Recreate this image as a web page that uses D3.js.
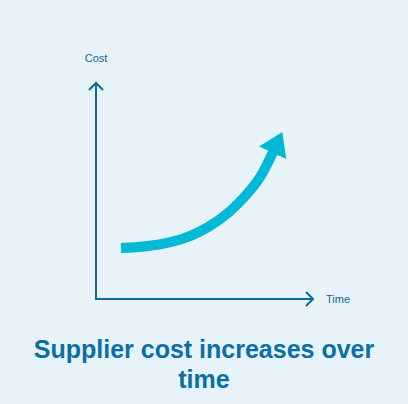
<!doctype html>
<html lang="en">
<head>
    <meta charset="utf-8">
    <title>Supplier cost increases over time</title>
    <script src="https://cdn.jsdelivr.net/npm/d3@7"></script>
    <style>
        html, body { margin: 0; padding: 0; background: #e7f2f9; }
    </style>
</head>
<body>
    <script>
        // curve points in chart units (time on x, cost on y, both 0-10)
        var time = [1.15, 2.40, 3.96, 5.16, 6.08, 7.00, 7.65, 8.16];
        var cost = [2.36, 2.45, 2.78, 3.33, 3.98, 4.91, 5.79, 6.81];
        var axisLabels = ["Time", "Cost"];
        var titleLines = ["Supplier cost increases over", "time"];

        var width = 408, height = 404;
        var axisColor = "#0b6b98", curveColor = "#00b9d6", titleColor = "#0a6fa4";

        var svg = d3.select("body").append("svg")
            .attr("width", width)
            .attr("height", height)
            .style("display", "block");

        var x = d3.scaleLinear().domain([0, 10]).range([96, 313]);
        var y = d3.scaleLinear().domain([0, 10]).range([299, 83]);

        // arrowhead for the cost curve
        svg.append("defs").append("marker")
            .attr("id", "tri")
            .attr("markerUnits", "userSpaceOnUse")
            .attr("viewBox", "0 -16 24 32")
            .attr("markerWidth", 24)
            .attr("markerHeight", 32)
            .attr("refX", 1)
            .attr("refY", 0)
            .attr("orient", "auto")
            .append("path")
            .attr("d", "M0,-15L23,0L0,15Z")
            .attr("fill", curveColor);

        // axes: plain lines with open chevron ends
        var ax = svg.append("g")
            .attr("stroke", axisColor)
            .attr("stroke-width", 2)
            .attr("fill", "none");

        ax.append("path")
            .attr("d", d3.line()([[x(0), y(10)], [x(0), y(0)], [x(10), y(0)]]));
        ax.append("path")
            .attr("d", d3.line()([[x(0) - 7, y(10) + 7], [x(0), y(10)], [x(0) + 7, y(10) + 7]]));
        ax.append("path")
            .attr("d", d3.line()([[x(10) - 7, y(0) - 7], [x(10), y(0)], [x(10) - 7, y(0) + 7]]));

        svg.append("text")
            .attr("x", x(0))
            .attr("y", y(10) - 21)
            .attr("text-anchor", "middle")
            .attr("font-family", "Liberation Sans, Arial, sans-serif")
            .attr("font-size", 11)
            .attr("fill", axisColor)
            .text(axisLabels[1]);

        svg.append("text")
            .attr("x", x(10) + 13)
            .attr("y", y(0) + 4)
            .attr("font-family", "Liberation Sans, Arial, sans-serif")
            .attr("font-size", 11)
            .attr("fill", axisColor)
            .text(axisLabels[0]);

        // the rising cost curve
        var line = d3.line()
            .x(function(d, i) { return x(time[i]); })
            .y(function(d, i) { return y(cost[i]); })
            .curve(d3.curveNatural);

        svg.append("path")
            .attr("d", line(time))
            .attr("fill", "none")
            .attr("stroke", curveColor)
            .attr("stroke-width", 10)
            .attr("marker-end", "url(#tri)");

        // title
        svg.append("text")
            .attr("text-anchor", "middle")
            .attr("font-family", "Liberation Sans, Arial, sans-serif")
            .attr("font-size", 25)
            .attr("font-weight", "bold")
            .attr("fill", titleColor)
            .selectAll("tspan")
            .data(titleLines)
            .enter()
            .append("tspan")
            .attr("x", width / 2)
            .attr("y", function(d, i) { return 358 + i * 29.5; })
            .text(function(d) { return d; });
    </script>
</body>
</html>
